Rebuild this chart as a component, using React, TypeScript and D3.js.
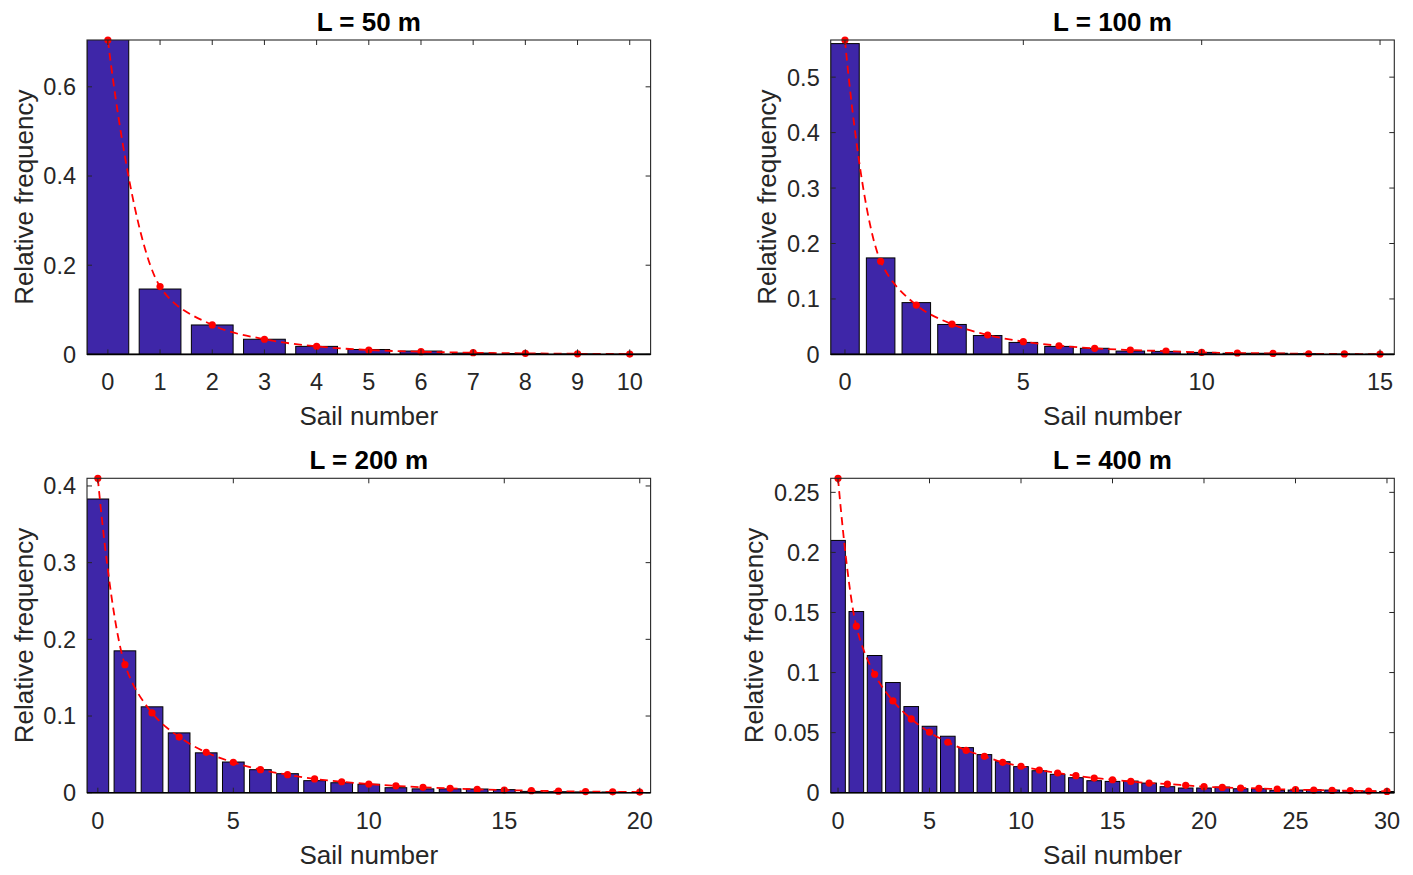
import * as d3 from 'd3'

// relative frequency of sail number, measured (bars) and fitted (red dashed)
const titles = ['L = 50 m', 'L = 100 m', 'L = 200 m', 'L = 400 m']

const bar50 = [0.72, 0.1466, 0.066, 0.034, 0.018, 0.011, 0.0075, 0.003, 0.002, 0.001, 0.0005]
const fit50 = [0.705, 0.152, 0.066, 0.034, 0.018, 0.0098, 0.006, 0.0038, 0.0023, 0.0014, 0.0008]

const bar100 = [0.5605, 0.174, 0.0934, 0.054, 0.034, 0.0216, 0.0144, 0.011, 0.006, 0.0054, 0.0036, 0.002, 0.002, 0.0012, 0.0005, 0.0003]
const fit100 = [0.567, 0.168, 0.089, 0.0545, 0.035, 0.023, 0.0156, 0.011, 0.0078, 0.006, 0.0036, 0.0025, 0.0018, 0.0012, 0.0008, 0.0005]

const bar200 = [0.383, 0.185, 0.112, 0.078, 0.052, 0.04, 0.03, 0.0248, 0.0157, 0.013, 0.011, 0.0065, 0.005, 0.005, 0.0048, 0.004, 0.0017, 0.0013, 0.001, 0.0009, 0.0002]
const fit200 = [0.41, 0.167, 0.104, 0.0726, 0.0526, 0.0396, 0.03, 0.0235, 0.018, 0.0143, 0.0113, 0.009, 0.007, 0.0057, 0.0043, 0.0035, 0.0026, 0.002, 0.0015, 0.0011, 0.0008]

const bar400 = [0.21, 0.1508, 0.1142, 0.0917, 0.0717, 0.0553, 0.047, 0.0375, 0.0317, 0.0258, 0.0217, 0.0183, 0.0153, 0.0125, 0.01, 0.0094, 0.0097, 0.008, 0.005, 0.0039, 0.0039, 0.0047, 0.0033, 0.0033, 0.002, 0.0022, 0.0025, 0.0022, 0.0017, 0.0014, 0.001]
const fit400 = [0.2617, 0.1386, 0.0986, 0.0764, 0.0614, 0.0503, 0.042, 0.0353, 0.0303, 0.0253, 0.022, 0.0189, 0.0164, 0.0142, 0.0122, 0.0108, 0.0094, 0.008, 0.0072, 0.0061, 0.005, 0.0044, 0.0039, 0.0036, 0.003, 0.0025, 0.0022, 0.0019, 0.0017, 0.0014, 0.0011]

const xTicks50 = [0, 1, 2, 3, 4, 5, 6, 7, 8, 9, 10]
const xTicks100 = [0, 5, 10, 15]
const xTicks200 = [0, 5, 10, 15, 20]
const xTicks400 = [0, 5, 10, 15, 20, 25, 30]

const yTicks50 = [0, 0.2, 0.4, 0.6]
const yTicks100 = [0, 0.1, 0.2, 0.3, 0.4, 0.5]
const yTicks200 = [0, 0.1, 0.2, 0.3, 0.4]
const yTicks400 = [0, 0.05, 0.1, 0.15, 0.2, 0.25]

const W = 1413, H = 875
const colX = [87, 830.7]
const rowY = [40, 478.3]
const pw = 563.6, ph = 314.4
const ink = '#262626'
const barFill = '#3e26a8'
const font = '"Liberation Sans", Arial, sans-serif'
const tickSize = 23.5
const labelSize = 26

const fmt = (v: number) => String(+v.toFixed(3))
const textW = (s: string, size: number) =>
  s.split('').reduce((a, c) => a + (c === '.' ? 0.278 : 0.556), 0) * size

type PanelProps = {
  id: string; title: string; bars: number[]; fit: number[]
  xTicks: number[]; yTicks: number[]; left: number; top: number
}

const Panel = ({ id, title, bars, fit, xTicks, yTicks, left, top }: PanelProps) => {
  const n = bars.length - 1
  const x = d3.scaleLinear().domain([-0.4, n + 0.4]).range([0, pw])
  const y = d3.scaleLinear().domain([0, d3.max(fit) as number]).range([ph, 0])
  const pts = fit.map((v, i) => [i, v] as [number, number])
  const line = d3.line<[number, number]>()
    .x(d => x(d[0])).y(d => y(d[1]))
    .curve(d3.curveCatmullRom.alpha(0.5))
  const bw = x(0.8) - x(0)
  const maxTw = d3.max(yTicks, t => textW(fmt(t), tickSize)) as number
  const tl = 5
  return (
    <g transform={`translate(${left},${top})`} fontFamily={font} fill={ink}>
      <defs>
        <clipPath id={id}><rect x={0} y={0} width={pw} height={ph} /></clipPath>
      </defs>
      <rect x={0} y={0} width={pw} height={ph} fill="#fff" />
      <g clipPath={`url(#${id})`}>
        {bars.map((v, i) => (
          <rect key={i} x={x(i) - bw / 2} y={y(v)} width={bw} height={ph - y(v)}
            fill={barFill} stroke="#000" strokeWidth={1} />
        ))}
      </g>
      <path d={line(pts) ?? ''} fill="none" stroke="#ff0000" strokeWidth={1.8} strokeDasharray="8,5" />
      {pts.map((d, i) => (
        <circle key={i} cx={x(d[0])} cy={y(d[1])} r={3.6} fill="#ff0000" />
      ))}
      {/* box and ticks */}
      <rect x={0} y={0} width={pw} height={ph} fill="none" stroke={ink} strokeWidth={1.1} />
      {xTicks.map(t => (
        <g key={t} stroke={ink} strokeWidth={1}>
          <line x1={x(t)} x2={x(t)} y1={ph} y2={ph - tl} />
          <line x1={x(t)} x2={x(t)} y1={0} y2={tl} />
        </g>
      ))}
      {yTicks.map(t => (
        <g key={t} stroke={ink} strokeWidth={1}>
          <line x1={0} x2={tl} y1={y(t)} y2={y(t)} />
          <line x1={pw} x2={pw - tl} y1={y(t)} y2={y(t)} />
        </g>
      ))}
      <line x1={0} x2={pw} y1={ph} y2={ph} stroke="#000" strokeWidth={1.6} />
      {xTicks.map(t => (
        <text key={t} x={x(t)} y={ph + 36} textAnchor="middle" fontSize={tickSize}>{fmt(t)}</text>
      ))}
      {yTicks.map(t => (
        <text key={t} x={-11} y={y(t)} dy="0.36em" textAnchor="end" fontSize={tickSize}>{fmt(t)}</text>
      ))}
      <text x={pw / 2} y={ph + 71} textAnchor="middle" fontSize={labelSize}>Sail number</text>
      <text transform={`translate(${-11 - maxTw - 20},${ph / 2}) rotate(-90)`} dy="0.36em"
        textAnchor="middle" fontSize={labelSize}>Relative frequency</text>
      <text x={pw / 2} y={-9} textAnchor="middle" fontSize={labelSize} fontWeight="bold" fill="#000">{title}</text>
    </g>
  )
}

export default function App() {
  return (
    <svg width={W} height={H} viewBox={`0 0 ${W} ${H}`}
      style={{ position: 'absolute', left: 0, top: 0, background: '#fff' }}>
      <rect width={W} height={H} fill="#fff" />
      <Panel id="c50" title={titles[0]} bars={bar50} fit={fit50} xTicks={xTicks50} yTicks={yTicks50} left={colX[0]} top={rowY[0]} />
      <Panel id="c100" title={titles[1]} bars={bar100} fit={fit100} xTicks={xTicks100} yTicks={yTicks100} left={colX[1]} top={rowY[0]} />
      <Panel id="c200" title={titles[2]} bars={bar200} fit={fit200} xTicks={xTicks200} yTicks={yTicks200} left={colX[0]} top={rowY[1]} />
      <Panel id="c400" title={titles[3]} bars={bar400} fit={fit400} xTicks={xTicks400} yTicks={yTicks400} left={colX[1]} top={rowY[1]} />
    </svg>
  )
}
